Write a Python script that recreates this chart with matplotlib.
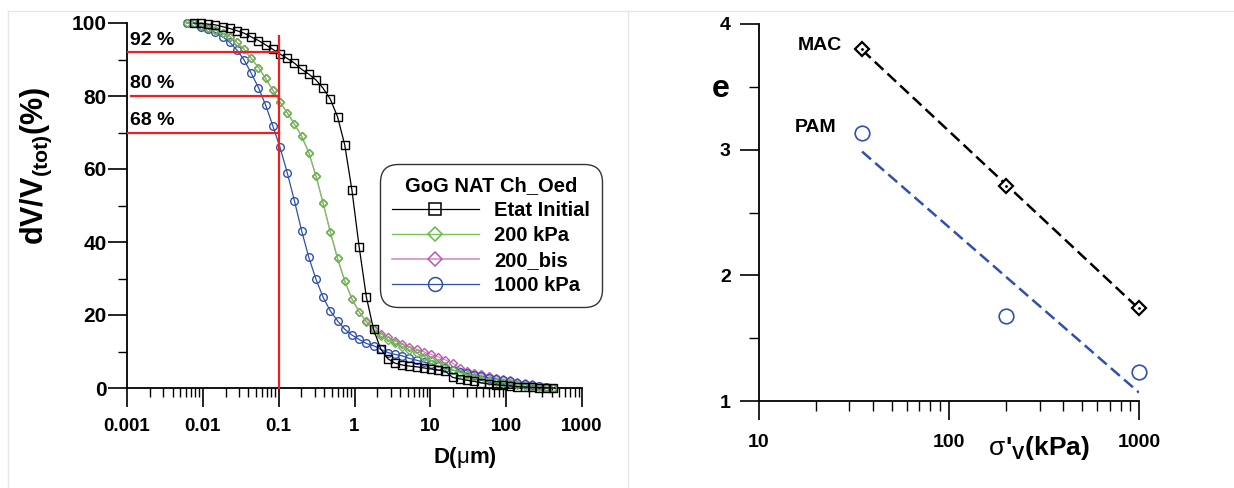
import matplotlib
matplotlib.use("Agg")
import matplotlib.pyplot as plt
import numpy as np
from matplotlib.lines import Line2D
from matplotlib.ticker import LogLocator, MultipleLocator, FixedLocator, NullFormatter, FuncFormatter
from matplotlib.offsetbox import TextArea, HPacker, AnchoredOffsetbox

plt.rcParams['font.family'] = ['Liberation Sans', 'DejaVu Sans']
plt.rcParams['font.weight'] = 'bold'
plt.rcParams['mathtext.fontset'] = 'custom'
plt.rcParams['mathtext.rm'] = 'Liberation Sans:bold'
plt.rcParams['mathtext.bf'] = 'Liberation Sans:bold'
plt.rcParams['lines.scale_dashes'] = False

# ---------------- data: left panel (cumulative volume) ----------------
D_um = [0.0061, 0.00759, 0.00944, 0.01174, 0.01461, 0.01817, 0.02261, 0.02812,
        0.03499, 0.04352, 0.05414, 0.06735, 0.08378, 0.1042, 0.1297, 0.1613,
        0.2007, 0.2496, 0.3105, 0.3863, 0.4805, 0.5977, 0.7436, 0.9251,
        1.151, 1.432, 1.781, 2.216, 2.756, 3.429, 4.266, 5.307,
        6.601, 8.212, 10.21, 12.71, 15.81, 19.67, 24.46, 30.44,
        37.86, 47.10, 58.60, 72.89, 90.67, 112.8, 140.3, 174.6,
        217.2, 270.2, 336.1, 418.1]

etat_initial = [100.0, 99.9, 99.7, 99.5, 99.0, 98.5, 97.9, 97.2, 96.2, 95.2,
                94.0, 92.8, 91.5, 90.3, 89.0, 87.3, 86.0, 84.4, 82.1, 79.1,
                74.3, 66.6, 54.2, 38.7, 25.0, 16.1, 10.7, 8.0, 6.8, 6.3,
                6.0, 5.8, 5.5, 5.2, 4.9, 4.6, 2.9, 2.5, 2.1, 1.8,
                1.4, 1.1, 0.9, 0.7, 0.55, 0.4, 0.3, 0.2, 0.1, 0.05, 0.0]  # from D_um[1]

p200 = [100.0, 99.9, 99.3, 98.7, 98.1, 97.2, 96.3, 94.7, 92.8, 90.3,
        87.8, 84.8, 81.6, 78.3, 75.4, 72.3, 69.0, 64.5, 58.1, 50.6,
        42.7, 35.5, 29.3, 24.4, 20.8, 18.1, 15.9, 14.2, 13.2, 12.2,
        11.3, 10.4, 9.5, 8.6, 7.6, 6.9, 6.1, 5.0, 4.2, 3.6,
        2.9, 2.4, 1.9, 1.7, 1.5, 1.3, 0.8, 0.6, 0.4, 0.3, 0.1, 0.0]

p200_bis = [100.0, 99.9, 99.3, 98.7, 98.1, 97.2, 96.3, 94.7, 92.8, 90.3,
            87.8, 84.8, 81.6, 78.3, 75.4, 72.3, 69.0, 64.5, 58.1, 50.6,
            42.7, 35.5, 29.3, 24.4, 20.9, 18.3, 16.3, 14.8, 13.9, 12.9,
            12.0, 11.2, 10.6, 9.9, 9.2, 8.5, 7.7, 6.8, 5.5, 4.7,
            4.2, 3.8, 3.3, 2.8, 2.5, 2.2, 1.7, 1.5, 1.1, 0.5, 0.2, 0.0]

p1000 = [100.0, 99.9, 99.0, 98.4, 97.4, 96.3, 94.7, 92.6, 89.9, 86.2,
         82.3, 77.5, 71.8, 65.9, 59.0, 51.3, 43.1, 35.8, 29.8, 24.8,
         21.1, 18.4, 16.1, 14.5, 13.3, 12.2, 11.6, 10.6, 9.7, 9.2,
         8.8, 8.1, 7.6, 7.1, 6.6, 6.0, 5.4, 4.9, 4.4, 4.0,
         3.6, 3.2, 2.8, 2.5, 2.1, 1.8, 1.4, 1.1, 0.8, 0.5, 0.2, 0.0]

series_labels = ["Etat Initial", "200 kPa", "200_bis", "1000 kPa"]
legend_title = "GoG NAT Ch_Oed"

ref_D = 0.1
ref_levels = [92, 80, 70]
ref_texts = ["92 %", "80 %", "68 %"]
ref_vline_top = 96.4

# ---------------- data: right panel (e vs sigma'v) ----------------
sigma_kpa = [35, 200, 1000]
e_mac = [3.80, 2.71, 1.74]
e_pam = [3.135, 1.675, 1.23]

# colours
c_black = "#000000"
c_green = "#66bb44"
c_green_line = "#77c45a"
c_pink = "#c055b0"
c_pink_line = "#d88cc8"
c_blue = "#3050b0"
c_red = "#f01e1e"

W, H = 1234, 488
fig = plt.figure(figsize=(W / 100, H / 100), dpi=100)

# panel frames
frame_c = "#e6e6e6"
fig.add_artist(Line2D([8 / W, 1.0], [1 - 11 / H, 1 - 11 / H], transform=fig.transFigure, color=frame_c, lw=1))
fig.add_artist(Line2D([8 / W, 8 / W], [0, 1 - 11 / H], transform=fig.transFigure, color=frame_c, lw=1))
fig.add_artist(Line2D([628 / W, 628 / W], [0, 1 - 11 / H], transform=fig.transFigure, color=frame_c, lw=1))

# ---------------- left axes ----------------
axL = fig.add_axes([127 / W, 100 / H, 455 / W, 365 / H])
axL.set_xscale('log')
axL.set_xlim(0.001, 1000)
axL.set_ylim(0, 100)
for s in ['top', 'right']:
    axL.spines[s].set_visible(False)
for s in ['left', 'bottom']:
    axL.spines[s].set_linewidth(1.3)

axL.plot(D_um[1:], etat_initial, color=c_black, lw=0.9, marker='s', ms=5.5,
         mfc='none', mec=c_black, mew=1.0, clip_on=False, zorder=5)
axL.plot(D_um, p200_bis, color=c_pink_line, lw=0.9, marker='D', ms=3.8,
         mfc='none', mec=c_pink, mew=1.0, clip_on=False, zorder=3)
axL.plot(D_um, p200, color=c_green_line, lw=0.9, marker='D', ms=3.8,
         mfc='none', mec=c_green, mew=1.0, clip_on=False, zorder=4)
axL.plot(D_um, p1000, color=c_blue, lw=0.9, marker='o', ms=5.5,
         mfc='none', mec=c_blue, mew=1.0, clip_on=False, zorder=3)

# red reference lines
axL.plot([ref_D, ref_D], [0, ref_vline_top], color=c_red, lw=1.6, zorder=6, clip_on=False)
starts = [0.001, 0.00113, 0.00103]
for lev, txt, x0 in zip(ref_levels, ref_texts, starts):
    axL.plot([x0, ref_D], [lev, lev], color=c_red, lw=1.6, zorder=6)
    axL.text(0.00108, lev + 1.0, txt, fontsize=14, fontweight='bold', ha='left', va='bottom')

axL.xaxis.set_major_locator(LogLocator(base=10, numticks=20))
axL.xaxis.set_minor_locator(LogLocator(base=10, subs=np.arange(2, 10), numticks=100))
axL.xaxis.set_minor_formatter(NullFormatter())
axL.xaxis.set_major_formatter(FuncFormatter(lambda v, p: ('%g' % v)))
axL.yaxis.set_major_locator(MultipleLocator(20))
axL.yaxis.set_minor_locator(MultipleLocator(10))
axL.tick_params(axis='both', which='major', length=13.5, width=1.2, direction='out')
axL.tick_params(axis='both', which='minor', length=6.5, width=1.0, direction='out')
axL.tick_params(axis='y', which='major', pad=1, labelsize=15)
axL.tick_params(axis='x', which='major', pad=8, labelsize=13.5)
for lab in axL.get_xticklabels() + axL.get_yticklabels():
    lab.set_fontweight('bold')

axL.set_ylabel(r"dV/V$_{\mathregular{(tot)}}$(%)", fontsize=22, fontweight='bold')
axL.yaxis.set_label_coords(-0.16, 0.61)

# x label with light Greek mu
pack = HPacker(children=[TextArea("D(", textprops=dict(fontsize=16, fontweight='bold')),
                         TextArea("μ", textprops=dict(fontsize=16, fontweight='normal')),
                         TextArea("m)", textprops=dict(fontsize=16, fontweight='bold'))],
               align='baseline', pad=0, sep=0)
ab = AnchoredOffsetbox(loc='center', child=pack, bbox_to_anchor=(0.743, -0.19),
                       bbox_transform=axL.transAxes, frameon=False, pad=0, borderpad=0)
axL.add_artist(ab)

# legend
handles = [
    Line2D([], [], color=c_black, lw=0.9, marker='s', ms=9, mfc='none', mec=c_black, mew=1.1),
    Line2D([], [], color=c_green_line, lw=1.0, marker='D', ms=7.5, mfc='none', mec=c_green, mew=1.1),
    Line2D([], [], color=c_pink_line, lw=1.2, marker='D', ms=7.5, mfc='none', mec=c_pink, mew=1.1),
    Line2D([], [], color=c_blue, lw=0.9, marker='o', ms=10, mfc='none', mec=c_blue, mew=1.1),
]
leg = axL.legend(handles, series_labels, title=legend_title, loc='upper left',
                 bbox_to_anchor=(380 / W, 1 - 164 / H), bbox_transform=fig.transFigure,
                 borderaxespad=0, fancybox=True, frameon=True, handlelength=4.3,
                 labelspacing=0.3, handletextpad=0.75, borderpad=0.6,
                 prop=dict(size=14.5, weight='bold'),
                 title_fontproperties=dict(size=14.5, weight='bold'))
leg.get_frame().set_edgecolor('black')
leg.get_frame().set_linewidth(1.0)
leg.get_frame().set_boxstyle('round', pad=0, rounding_size=0.9)
leg.set_zorder(10)

# ---------------- right axes ----------------
axR = fig.add_axes([758.6 / W, 87 / H, 380.4 / W, 377 / H])
axR.set_xscale('log')
axR.set_xlim(10, 1000)
axR.set_ylim(1, 4)
for s in ['top', 'right']:
    axR.spines[s].set_visible(False)
for s in ['left', 'bottom']:
    axR.spines[s].set_linewidth(1.3)

lx = np.log10(sigma_kpa)
fit_mac = np.polyfit(lx, e_mac, 1)
fit_pam = np.polyfit(lx, e_pam, 1)
xs = np.array([sigma_kpa[0], sigma_kpa[-1]])
axR.plot(xs, np.polyval(fit_mac, np.log10(xs)), color=c_black, lw=1.8, dashes=(8.5, 4), zorder=2)
axR.plot(xs, np.polyval(fit_pam, np.log10(xs)), color=c_blue, lw=1.8, dashes=(8.5, 4), zorder=2)
axR.plot(sigma_kpa, e_mac, ls='none', marker='D', ms=7.5, mfc='white', mec=c_black, mew=1.6, zorder=3, clip_on=False)
axR.plot(sigma_kpa, e_mac, ls='none', marker='.', ms=2, color=c_black, zorder=4, clip_on=False)
axR.plot(sigma_kpa, e_pam, ls='none', marker='o', ms=10.5, mfc='none', mec=c_blue, mew=1.2, zorder=3, clip_on=False)

axR.text(21, 3.825, "MAC", fontsize=14, fontweight='bold', ha='center', va='center')
axR.text(20, 3.18, "PAM", fontsize=14, fontweight='bold', ha='center', va='center')

axR.xaxis.set_major_locator(FixedLocator([10, 100, 1000]))
axR.xaxis.set_minor_locator(LogLocator(base=10, subs=np.arange(2, 10), numticks=100))
axR.xaxis.set_minor_formatter(NullFormatter())
axR.xaxis.set_major_formatter(FuncFormatter(lambda v, p: ('%g' % v)))
axR.yaxis.set_major_locator(MultipleLocator(1))
axR.yaxis.set_minor_locator(MultipleLocator(0.5))
axR.yaxis.set_major_formatter(FuncFormatter(lambda v, p: ('%g' % v)))
axR.tick_params(axis='both', which='major', length=14, width=1.2, direction='out', labelsize=14)
axR.tick_params(axis='both', which='minor', length=7, width=1.0, direction='out')
axR.tick_params(axis='y', which='major', pad=6)
axR.tick_params(axis='x', which='major', pad=10)
for lab in axR.get_xticklabels() + axR.get_yticklabels():
    lab.set_fontweight('bold')

axR.set_ylabel("e", fontsize=23, fontweight='bold', rotation=0, va='center', ha='center')
axR.yaxis.set_label_coords(-0.099, 0.828)

pack2 = HPacker(children=[TextArea("σ", textprops=dict(fontsize=19, fontweight='normal')),
                          TextArea(r"'$_{\mathregular{V}}$(kPa)", textprops=dict(fontsize=19, fontweight='bold'))],
                align='baseline', pad=0, sep=0)
ab2 = AnchoredOffsetbox(loc='center', child=pack2, bbox_to_anchor=(0.737, -0.125),
                        bbox_transform=axR.transAxes, frameon=False, pad=0, borderpad=0)
axR.add_artist(ab2)

fig.savefig("out.png", dpi=100)
